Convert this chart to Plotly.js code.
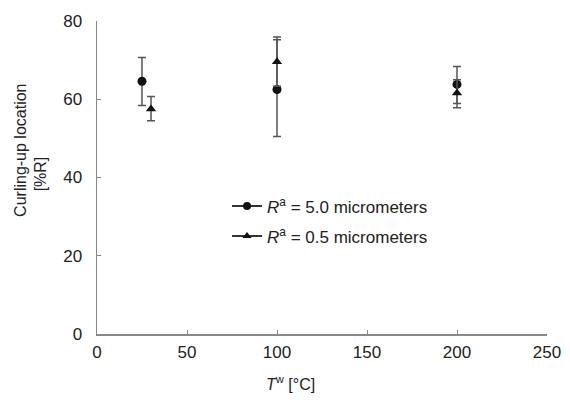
<!DOCTYPE html>
<html><head><meta charset="utf-8">
<script src="https://cdn.plot.ly/plotly-3.0.1.min.js"></script>
<style>body{margin:0;background:#fff}#c{width:570px;height:400px}</style>
</head><body><div id="c"></div>
<script>
const tempA = [25, 100, 200];
const curlA = [64.6, 62.5, 63.8];
const errUpA = [6.1, 12.7, 4.6];
const errDnA = [6.2, 12.0, 4.9];
const tempB = [30, 100, 200];
const curlB = [57.5, 69.6, 61.6];
const errUpB = [3.2, 6.3, 3.4];
const errDnB = [3.0, 6.3, 3.8];
const nameA = '<i>R</i><sup>a</sup> = 5.0 micrometers';
const nameB = '<i>R</i><sup>a</sup> = 0.5 micrometers';
const xTicks = [0, 50, 100, 150, 200, 250];
const yTicks = [0, 20, 40, 60, 80];
const yTitle1 = 'Curling-up location';
const yTitle2 = '[%R]';
const xTitle = '<i>T</i><sup>w</sup> [°C]';

const errStyle = {type:'data', symmetric:false, color:'#555', thickness:1.5, width:4};
const traces = [
 {x:tempA, y:curlA, mode:'markers', showlegend:false,
  marker:{symbol:'circle', size:9, color:'#111'},
  error_y:Object.assign({array:errUpA, arrayminus:errDnA}, errStyle)},
 {x:tempB, y:curlB, mode:'markers', showlegend:false,
  marker:{symbol:'triangle-up', size:9, color:'#111'},
  error_y:Object.assign({array:errUpB, arrayminus:errDnB}, errStyle)},
 {x:[null], y:[null], mode:'lines+markers', name:nameA, legendgroup:'a',
  marker:{symbol:'circle', size:8, color:'#111'}, line:{color:'#333', width:2}},
 {x:[null], y:[null], mode:'lines+markers', name:nameB, legendgroup:'b',
  marker:{symbol:'triangle-up', size:8, color:'#111'}, line:{color:'#333', width:2}}
];
const axisCommon = {showgrid:false, zeroline:false, showline:true, linecolor:'#888', linewidth:1.5,
  ticks:'inside', ticklen:4, tickcolor:'#888', tickfont:{family:'Liberation Sans, Arial', size:17, color:'#222'}};
const layout = {
  width:570, height:400, margin:{l:97, r:23, t:21, b:66},
  paper_bgcolor:'#fff', plot_bgcolor:'#fff',
  font:{family:'Liberation Sans, Arial', color:'#222'},
  xaxis:Object.assign({range:[0,250], tickvals:xTicks, ticktext:xTicks.map(String), ticklabelstandoff:2}, axisCommon),
  yaxis:Object.assign({range:[0,80], tickvals:yTicks, ticktext:yTicks.map(String), ticklabelstandoff:10}, axisCommon),
  annotations:[
    {xref:'paper', yref:'paper', x:-0.169, y:0.588, xanchor:'center', yanchor:'middle',
     text:yTitle1, textangle:-90, showarrow:false, font:{size:16, color:'#222'}},
    {xref:'paper', yref:'paper', x:-0.126, y:0.511, xanchor:'center', yanchor:'middle',
     text:yTitle2, textangle:-90, showarrow:false, font:{size:16, color:'#222'}},
    {xref:'paper', yref:'paper', x:0.429, y:-0.157, xanchor:'center', yanchor:'middle',
     text:xTitle, showarrow:false, font:{size:16, color:'#222'}}
  ],
  legend:{x:0.289, y:0.465, xanchor:'left', yanchor:'top', bgcolor:'rgba(0,0,0,0)',
    font:{size:17, color:'#222'}, traceorder:'grouped', tracegroupgap:5}
};
Plotly.newPlot('c', traces, layout, {displayModeBar:false, staticPlot:true});
</script></body></html>
